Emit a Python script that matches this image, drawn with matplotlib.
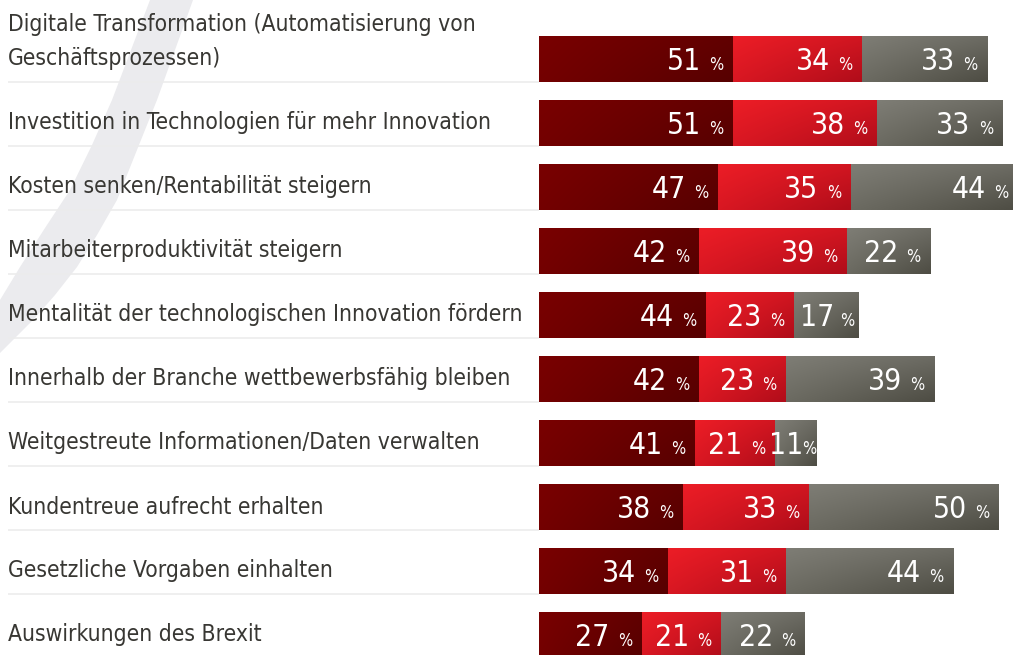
import numpy as np
import matplotlib.pyplot as plt
from matplotlib.colors import to_rgb
from matplotlib.patches import Polygon

labels = [
    "Digitale Transformation (Automatisierung von\nGeschäftsprozessen)",
    "Investition in Technologien für mehr Innovation",
    "Kosten senken/Rentabilität steigern",
    "Mitarbeiterproduktivität steigern",
    "Mentalität der technologischen Innovation fördern",
    "Innerhalb der Branche wettbewerbsfähig bleiben",
    "Weitgestreute Informationen/Daten verwalten",
    "Kundentreue aufrecht erhalten",
    "Gesetzliche Vorgaben einhalten",
    "Auswirkungen des Brexit",
]
dark = [51, 51, 47, 42, 44, 42, 41, 38, 34, 27]
red = [34, 38, 35, 39, 23, 23, 21, 33, 31, 21]
grey = [33, 33, 44, 22, 17, 39, 11, 50, 44, 22]

series = [dark, red, grey]
# corner colours for the gradients: top-left, top-right, bottom-left, bottom-right
grads = [
    ("#790000", "#620000", "#730000", "#570000"),
    ("#ec1d26", "#d21621", "#d81722", "#b10d1a"),
    ("#7e7d75", "#6d6c64", "#6b6a61", "#4e4d44"),
]

W, H = 1013, 655
PX = 3.8          # pixels per percent
X0 = 539          # pixel where bars start
fig = plt.figure(figsize=(W / 100, H / 100), dpi=100)
fig.patch.set_facecolor("white")

ax = fig.add_axes([0, 0, 1, 1])
ax.set_xlim(-X0 / PX, (W - X0) / PX)
ax.set_ylim((H - 59) / 64, -59 / 64)
ax.axis("off")

# light grey swoosh in the background (pixel coords, from top)
right_edge = [(197, -10), (193, 0), (175, 50), (157, 100), (137, 150), (117, 200),
              (97, 235), (77, 267), (55, 295), (33, 320), (0, 353), (-10, 362)]
left_edge = [(-10, 310), (0, 300), (20, 267), (45, 228), (70, 190), (92, 145),
             (112, 100), (131, 50), (150, 0), (154, -10)]
pts = [(x / W, 1 - y / H) for x, y in right_edge + left_edge]
ax.add_patch(Polygon(pts, closed=True, transform=fig.transFigure,
                     facecolor="#ebebee", edgecolor="none", zorder=0))

bar_h = 0.72
label_x = -(X0 - 8) / PX
font = dict(family="DejaVu Sans", stretch="condensed")


def corner_img(c, n=24):
    tl, tr, bl, br = [np.array(to_rgb(k)) for k in c]
    u = np.linspace(0, 1, n)[None, :, None]
    w = np.linspace(0, 1, n)[:, None, None]
    top = tl * (1 - u) + tr * u
    bot = bl * (1 - u) + br * u
    return top * (1 - w) + bot * w


for i, lab in enumerate(labels):
    ly = i - 0.27 if "\n" in lab else i
    ax.text(label_x, ly, lab, ha="left", va="center", fontsize=16.4,
            color="#383733", linespacing=1.58, zorder=5, **font)
    ax.plot([label_x, 0], [i + bar_h / 2, i + bar_h / 2], color="#ececec",
            lw=1.2, solid_capstyle="butt", zorder=1)

    left = 0
    for s, vals in enumerate(series):
        v = vals[i]
        bars = ax.barh(i, v, left=left, height=bar_h, color=grads[s][0],
                       linewidth=0, zorder=2)
        im = ax.imshow(corner_img(grads[s]), extent=(left, left + v, i + bar_h / 2, i - bar_h / 2),
                       interpolation="bilinear", aspect="auto", zorder=3)
        im.set_clip_path(bars[0])
        right = left + v
        yb = i + 0.165
        if v < 15:
            gap = (0, -9.5)
        elif v < 20:
            gap = (-3, -17)
        else:
            gap = (-7, -23)
        ax.annotate("%", (right, yb), xytext=(gap[0], 0), textcoords="offset points",
                    ha="right", va="baseline", color="white", fontsize=12,
                    annotation_clip=False, zorder=6, **font)
        ax.annotate(str(v), (right, yb), xytext=(gap[1], 0), textcoords="offset points",
                    ha="right", va="baseline", color="white", fontsize=21.5,
                    annotation_clip=False, zorder=6, **font)
        left = right

ax.set_xlim(-X0 / PX, (W - X0) / PX)
ax.set_ylim((H - 59) / 64, -59 / 64)
fig.savefig("out.png", dpi=100, facecolor="white")
